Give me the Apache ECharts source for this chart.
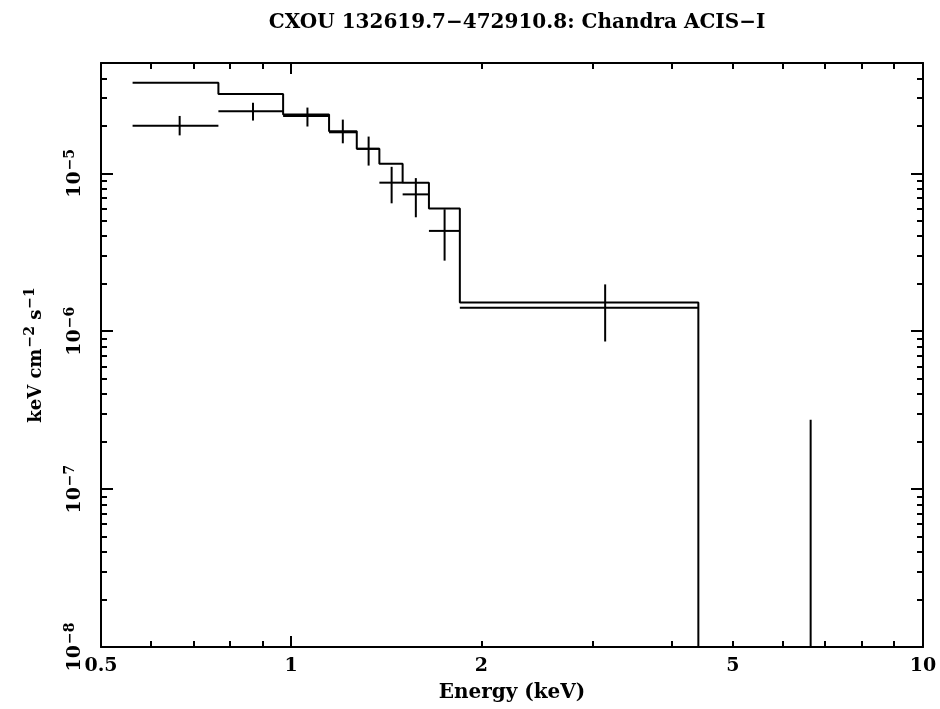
<!DOCTYPE html>
<html>
<head>
<meta charset="utf-8">
<script src="https://cdn.jsdelivr.net/npm/echarts@6/dist/echarts.min.js"></script>
<style>
html, body { margin: 0; padding: 0; background: #fff; }
#chart { width: 940px; height: 709px; }
</style>
</head>
<body>
<div id="chart"></div>
<script>
// bin edges shared by the model and the data (keV)
const binEdges = [0.561, 0.767, 0.971, 1.148, 1.270, 1.379, 1.501, 1.652, 1.849, 4.41];
// folded model, one value per bin (keV cm^-2 s^-1)
const modelFlux = [3.75e-5, 3.18e-5, 2.36e-5, 1.85e-5, 1.43e-5, 1.15e-5, 8.73e-6, 5.98e-6, 1.52e-6];

// data points with error bars
const dataEnergy = [0.666, 0.870, 1.061, 1.207, 1.326, 1.442, 1.575, 1.749, 3.14, 6.64];
const dataBinLo  = [0.561, 0.767, 0.971, 1.148, 1.270, 1.379, 1.501, 1.652, 1.849, 4.41];
const dataBinHi  = [0.767, 0.971, 1.148, 1.270, 1.379, 1.501, 1.652, 1.849, 4.41, 10];
const dataFlux   = [2.0e-5, 2.47e-5, 2.31e-5, 1.82e-5, 1.43e-5, 8.73e-6, 7.36e-6, 4.32e-6, 1.41e-6, 0];
const dataFluxLo = [1.74e-5, 2.16e-5, 1.98e-5, 1.55e-5, 1.12e-5, 6.46e-6, 5.27e-6, 2.80e-6, 8.61e-7, 0];
const dataFluxHi = [2.31e-5, 2.80e-5, 2.61e-5, 2.19e-5, 1.71e-5, 1.10e-5, 9.33e-6, 5.92e-6, 1.98e-6, 2.75e-7];

// ticks
const xLabelValues = [0.5, 1, 2, 5, 10];
const xMajorTicks = [1];
const xMinorTicks = [0.6, 0.7, 0.8, 0.9, 2, 3, 4, 5, 6, 7, 8, 9];
const yLabelValues = [1e-8, 1e-7, 1e-6, 1e-5];
const yMajorTicks = [1e-7, 1e-6, 1e-5];
const yMinorTicks = [];
[1e-8, 1e-7, 1e-6, 1e-5].forEach(d => {
    for (let k = 2; k <= 9; k++) if (k * d < 5e-5) yMinorTicks.push(+(k * d).toPrecision(2));
});

const X_MIN = 0.5, X_MAX = 10, Y_MIN = 1e-8, Y_MAX = 5e-5;
const FONT = "DejaVu Serif";

const modelLine = [];
modelFlux.forEach((v, i) => {
    modelLine.push([binEdges[i], v], [binEdges[i + 1], v]);
});
modelLine.push([binEdges[binEdges.length - 1], Y_MIN]);

const crossData = dataEnergy.map((e, i) => [e, dataFlux[i], dataBinLo[i], dataBinHi[i], dataFluxLo[i], dataFluxHi[i]]);

function xAxisDef(position, ticks, len, showLine, labels) {
    return {
        type: "log", logBase: 10, min: X_MIN, max: X_MAX, position: position,
        axisLine: {show: showLine, onZero: false, lineStyle: {color: "#000", width: 2}},
        axisTick: {show: true, inside: true, length: len, customValues: ticks, lineStyle: {color: "#000", width: 2}},
        axisLabel: labels ? {
            show: true, customValues: labels, margin: 10, color: "#000",
            fontFamily: FONT, fontWeight: "bold", fontSize: 19,
            showMinLabel: true, showMaxLabel: true,
            formatter: v => String(+(+v).toPrecision(3))
        } : {show: false},
        splitLine: {show: false}
    };
}

function yAxisDef(position, ticks, len, showLine, labels) {
    return {
        type: "log", logBase: 10, min: Y_MIN, max: Y_MAX, position: position,
        axisLine: {show: showLine, onZero: false, lineStyle: {color: "#000", width: 2}},
        axisTick: {show: true, inside: true, length: len, customValues: ticks, lineStyle: {color: "#000", width: 2}},
        axisLabel: labels ? {
            show: true, customValues: labels, margin: 16, rotate: 90, color: "#000",
            showMinLabel: true, showMaxLabel: true,
            formatter: v => "{b|10}{s|\u2212" + Math.round(-Math.log10(v)) + "}",
            rich: {
                b: {fontFamily: FONT, fontWeight: "bold", fontSize: 19, color: "#000", verticalAlign: "bottom"},
                s: {fontFamily: FONT, fontWeight: "bold", fontSize: 14, color: "#000", verticalAlign: "top", padding: [0, 0, 8, 1]}
            }
        } : {show: false},
        splitLine: {show: false}
    };
}

const xAxes = [
    xAxisDef("bottom", xMajorTicks, 11, true, xLabelValues),
    xAxisDef("bottom", xMinorTicks, 6, false, null),
    xAxisDef("top", xMajorTicks, 11, true, null),
    xAxisDef("top", xMinorTicks, 6, false, null)
];
xAxes[0].name = "Energy (keV)";
xAxes[0].nameLocation = "middle";
xAxes[0].nameGap = 36;
xAxes[0].nameTextStyle = {fontFamily: FONT, fontWeight: "bold", fontSize: 20, color: "#000"};

const yAxes = [
    yAxisDef("left", yMajorTicks, 12, true, yLabelValues),
    yAxisDef("left", yMinorTicks, 6, false, null),
    yAxisDef("right", yMajorTicks, 12, true, null),
    yAxisDef("right", yMinorTicks, 6, false, null)
];
yAxes[0].name = "{a|keV cm}{s|\u22122}{a| s}{s|\u22121}";
yAxes[0].nameLocation = "middle";
yAxes[0].nameRotate = 90;
yAxes[0].nameGap = 56;
yAxes[0].nameTextStyle = {
    rich: {
        a: {fontFamily: FONT, fontWeight: "bold", fontSize: 18, color: "#000", verticalAlign: "bottom"},
        s: {fontFamily: FONT, fontWeight: "bold", fontSize: 14, color: "#000", verticalAlign: "top", padding: [0, 0, 8, 1]}
    }
};

const chart = echarts.init(document.getElementById("chart"), null, {renderer: "canvas"});
chart.setOption({
    animation: false,
    backgroundColor: "#fff",
    title: {
        text: "CXOU 132619.7\u2212472910.8: Chandra ACIS\u2212I",
        left: 512, top: 8, textAlign: "center",
        textStyle: {fontFamily: FONT, fontWeight: "bold", fontSize: 20, color: "#000"}
    },
    grid: {left: 101, right: 17, top: 63, bottom: 62, containLabel: false},
    xAxis: xAxes,
    yAxis: yAxes,
    series: [
        {
            name: "model", type: "line", xAxisIndex: 0, yAxisIndex: 0,
            data: modelLine, showSymbol: false, symbol: "none", clip: true,
            lineStyle: {color: "#000", width: 2}
        },
        {
            name: "data", type: "custom", xAxisIndex: 0, yAxisIndex: 0,
            data: crossData, clip: true,
            encode: {x: 0, y: 5},
            renderItem: (params, api) => {
                const e = api.value(0), f = api.value(1);
                const lo = api.value(2), hi = api.value(3);
                const flo = api.value(4), fhi = api.value(5);
                const style = {stroke: "#000", lineWidth: 2};
                const children = [];
                if (f > 0) {
                    const a = api.coord([lo, f]), b = api.coord([hi, f]);
                    children.push({type: "line", shape: {x1: a[0], y1: a[1], x2: b[0], y2: b[1]}, style: style});
                }
                const t = api.coord([e, fhi]), u = api.coord([e, Math.max(flo, Y_MIN)]);
                children.push({type: "line", shape: {x1: t[0], y1: t[1], x2: u[0], y2: u[1]}, style: style});
                return {type: "group", children: children};
            }
        }
    ]
});
</script>
</body>
</html>
